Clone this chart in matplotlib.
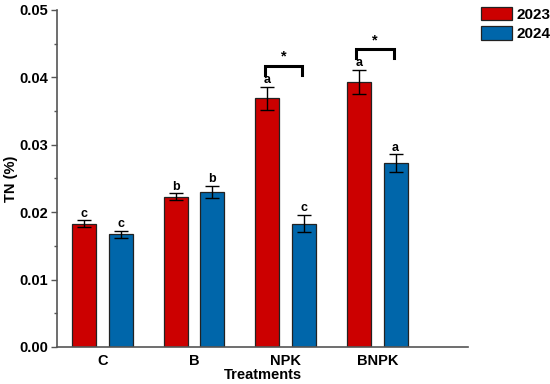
import matplotlib
matplotlib.use("Agg")
import matplotlib.pyplot as plt
import numpy as np

categories = ["C", "B", "NPK", "BNPK"]
years = ["2023", "2024"]
tn_2023 = [0.0183, 0.0223, 0.0369, 0.0393]
tn_2024 = [0.0167, 0.0230, 0.0183, 0.0273]
err_2023 = [0.0005, 0.0005, 0.0017, 0.0018]
err_2024 = [0.0005, 0.0009, 0.0013, 0.0013]
letters_2023 = ["c", "b", "a", "a"]
letters_2024 = ["c", "b", "c", "a"]
sig_groups = ["NPK", "BNPK"]

plt.rcParams['font.family'] = ['Liberation Sans', 'DejaVu Sans']
plt.rcParams['font.weight'] = 'bold'

red = "#CC0000"
blue = "#0066AA"

fig = plt.figure(figsize=(5.5, 3.84), dpi=100)
ax = fig.add_axes([0.1036, 0.0964, 0.7474, 0.8776])

x = np.arange(len(categories))
w = 0.262
off = 0.199
ekw = dict(elinewidth=1.0, capsize=5, capthick=1.0, ecolor="black")
ax.bar(x - off, tn_2023, w, color=red, edgecolor="#222222", linewidth=0.9,
       yerr=err_2023, error_kw=ekw, label=years[0], zorder=2)
ax.bar(x + off, tn_2024, w, color=blue, edgecolor="#222222", linewidth=0.9,
       yerr=err_2024, error_kw=ekw, label=years[1], zorder=2)

for i in range(len(categories)):
    ax.annotate(letters_2023[i], (x[i] - off, tn_2023[i] + err_2023[i]),
                xytext=(0, 0.5), textcoords="offset points", ha="center",
                va="bottom", fontsize=9, fontweight="bold")
    ax.annotate(letters_2024[i], (x[i] + off, tn_2024[i] + err_2024[i]),
                xytext=(0, 0.5), textcoords="offset points", ha="center",
                va="bottom", fontsize=9, fontweight="bold")

for g in sig_groups:
    i = categories.index(g)
    yb = tn_2023[i] + err_2023[i] + 0.0031
    x1, x2 = x[i] - off - 0.03, x[i] + off - 0.02
    ax.plot([x1, x1, x2, x2], [yb - 0.0013, yb, yb, yb - 0.0013],
            color="black", lw=2.2, solid_joinstyle="miter", zorder=3)
    ax.text((x1 + x2) / 2, yb + 0.0003, "*", ha="center", va="bottom",
            fontsize=10.5, fontweight="bold")

ax.set_xlim(-0.495, 3.99)
ax.set_ylim(0, 0.05)
ax.set_xticks(x)
ax.set_xticklabels(categories, fontsize=10.5, fontweight="bold")
ax.tick_params(axis="x", length=0, pad=5)
ax.set_yticks([0.0, 0.01, 0.02, 0.03, 0.04, 0.05])
ax.set_yticklabels(["0.00", "0.01", "0.02", "0.03", "0.04", "0.05"],
                   fontsize=10.5, fontweight="bold")
ax.set_yticks(np.arange(0.005, 0.05, 0.01), minor=True)
ax.tick_params(axis="y", which="major", direction="out", length=4, width=1.0,
               color="#555555", pad=2.5)
ax.tick_params(axis="y", which="minor", direction="out", length=2.5, width=1.0,
               color="#555555")
for s in ["top", "right"]:
    ax.spines[s].set_visible(False)
for s in ["left", "bottom"]:
    ax.spines[s].set_linewidth(1.2)
    ax.spines[s].set_color("#555555")

ax.set_xlabel("Treatments", fontsize=10.5, fontweight="bold", labelpad=0)
ax.set_ylabel("TN (%)", fontsize=10.5, fontweight="bold", labelpad=0.5)

fig.legend(loc="upper left", bbox_to_anchor=(481 / 550, 1 - 7 / 384),
           frameon=False, fontsize=11, handlelength=2.0, handleheight=0.95,
           labelspacing=0.3, handletextpad=0.35, borderaxespad=0,
           borderpad=0)

fig.savefig("out.png", dpi=100)
